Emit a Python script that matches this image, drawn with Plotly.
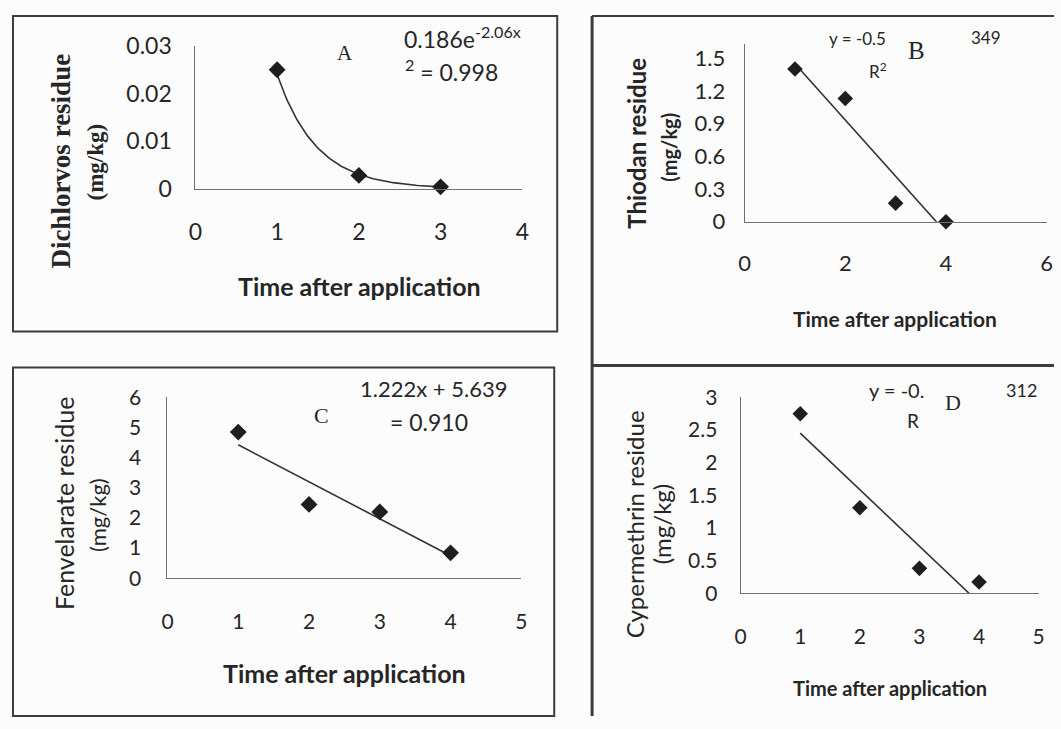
import numpy as np
import plotly.graph_objects as go

# ---------------- data ----------------
days = [1, 2, 3, 4]

dichlorvos_x = [1, 2, 3]
dichlorvos_y = [0.025, 0.0028, 0.0004]

thiodan_y = [1.40, 1.13, 0.17, 0.0]
fenvelarate_y = [4.85, 2.45, 2.20, 0.84]
cypermethrin_y = [2.75, 1.31, 0.38, 0.17]

a_ticks = [0, 0.01, 0.02, 0.03]
a_ticklabels = ["0", "0.01", "0.02", "0.03"]
b_ticks = [0, 0.3, 0.6, 0.9, 1.2, 1.5]
b_ticklabels = ["0", "0.3", "0.6", "0.9", "1.2", "1.5"]
c_ticks = [0, 1, 2, 3, 4, 5, 6]
d_ticks = [0, 0.5, 1, 1.5, 2, 2.5, 3]
d_ticklabels = ["0", "0.5", "1", "1.5", "2", "2.5", "3"]

W, H = 1061, 729

# the page is photographed with a small margin around the figure;
# convert target picture pixels to figure (paper) fractions
OX, SX = 6.0, 0.99
OY, SY = 14.0, 0.963


def X(px):
    return min(max((px - OX) / SX / W, 0.0), 1.0)


def Y(py):
    return min(max(1 - (py - OY) / SY / H, 0.0), 1.0)


INK = "#262626"
AXIS = "#707070"
SANS = "Lato, 'Open Sans', sans-serif"
SERIF = "'Liberation Serif', 'DejaVu Serif', serif"

fig = go.Figure()

# ---------------- trend lines (fitted from the data) ----------------
b_exp, ln_a = np.polyfit(dichlorvos_x, np.log(dichlorvos_y), 1)
xa = np.linspace(min(dichlorvos_x), max(dichlorvos_x), 80)
fig.add_trace(go.Scatter(x=xa, y=np.exp(ln_a) * np.exp(b_exp * xa), mode="lines",
                         line=dict(color="#333333", width=1.6), xaxis="x", yaxis="y",
                         hoverinfo="skip"))


def linfit(ys):
    m, c = np.polyfit(days, ys, 1)
    xs = np.array([min(days), max(days)], dtype=float)
    return xs, m * xs + c


for ys, xr, yr in [(thiodan_y, "x2", "y2"), (fenvelarate_y, "x3", "y3"), (cypermethrin_y, "x4", "y4")]:
    xs, yl = linfit(ys)
    fig.add_trace(go.Scatter(x=xs, y=yl, mode="lines", line=dict(color="#333333", width=1.6),
                             xaxis=xr, yaxis=yr, hoverinfo="skip"))


# ---------------- markers ----------------
def mk(size):
    return dict(symbol="diamond", size=size, color="#1e1e1e", line=dict(width=0))


fig.add_trace(go.Scatter(x=dichlorvos_x, y=dichlorvos_y, mode="markers", marker=mk(13),
                         cliponaxis=False, xaxis="x", yaxis="y"))
fig.add_trace(go.Scatter(x=days, y=thiodan_y, mode="markers", marker=mk(12),
                         cliponaxis=False, xaxis="x2", yaxis="y2"))
fig.add_trace(go.Scatter(x=days, y=fenvelarate_y, mode="markers", marker=mk(13),
                         cliponaxis=False, xaxis="x3", yaxis="y3"))
fig.add_trace(go.Scatter(x=days, y=cypermethrin_y, mode="markers", marker=mk(12),
                         cliponaxis=False, xaxis="x4", yaxis="y4"))


def xax(px0, px1, rng, dtick, anchor, fs, standoff):
    return dict(domain=[X(px0), X(px1)], range=rng, dtick=dtick, tick0=0, anchor=anchor,
                showgrid=False, zeroline=False, showline=True, linecolor=AXIS, linewidth=1,
                ticks="", ticklabelstandoff=standoff,
                tickfont=dict(family=SANS, size=fs, color=INK), fixedrange=True)


def yax(py0, py1, rng, tickvals, ticktext, anchor, fs, standoff):
    return dict(domain=[Y(py0), Y(py1)], range=rng, tickvals=tickvals, ticktext=ticktext,
                anchor=anchor, showgrid=False, zeroline=False, showline=True, linecolor=AXIS,
                linewidth=1, ticks="", ticklabelstandoff=standoff,
                tickfont=dict(family=SANS, size=fs, color=INK), fixedrange=True)


layout = dict(
    width=W, height=H, margin=dict(l=0, r=0, t=0, b=0),
    paper_bgcolor="#fcfcfc", plot_bgcolor="rgba(0,0,0,0)", showlegend=False,
    xaxis=xax(195, 523, [0, 4], 1, "y", 23, 23),
    yaxis=yax(188, 45, [0, 0.03], a_ticks, a_ticklabels, "x", 23, 18),
    xaxis2=xax(746, 1049, [0, 6], 2, "y2", 22, 22),
    yaxis2=yax(221, 43, [0, 1.63], b_ticks, b_ticklabels, "x2", 22, 14),
    xaxis3=xax(167, 522, [0, 5], 1, "y3", 21, 25),
    yaxis3=yax(578, 397, [0, 6], c_ticks, [str(v) for v in c_ticks], "x3", 21, 21),
    xaxis4=xax(742, 1041, [0, 5], 1, "y4", 21, 25),
    yaxis4=yax(593, 397, [0, 3], d_ticks, d_ticklabels, "x4", 21, 18),
)
fig.update_layout(**layout)

# ---------------- panel frames ----------------
frame = dict(color="#3c3c3c", width=2)
shapes = [
    dict(type="rect", xref="paper", yref="paper", x0=X(12), x1=X(558), y0=Y(331), y1=Y(15), line=frame),
    dict(type="rect", xref="paper", yref="paper", x0=X(12), x1=X(555), y0=Y(720), y1=Y(367), line=frame),
    dict(type="line", xref="paper", yref="paper", x0=X(593), x1=X(593), y0=Y(729), y1=Y(15), line=dict(color="#3c3c3c", width=3)),
    dict(type="line", xref="paper", yref="paper", x0=X(593), x1=X(1061), y0=Y(15), y1=Y(15), line=frame),
    dict(type="line", xref="paper", yref="paper", x0=X(593), x1=X(1061), y0=Y(365), y1=Y(365), line=dict(color="#3c3c3c", width=3)),
]
fig.update_layout(shapes=shapes)


# ---------------- texts ----------------
def txt(s, px, py, size, family=SANS, bold=False, angle=0, xanchor="center", color=INK):
    if bold:
        s = "<b>" + s + "</b>"
    return dict(text=s, x=X(px), y=Y(py), xref="paper", yref="paper", showarrow=False,
                xanchor=xanchor, yanchor="middle", textangle=angle,
                font=dict(family=family, size=size, color=color))


ann = [
    # Panel A
    txt("Time after application", 360, 285, 25, bold=True),
    txt("Dichlorvos residue", 60, 160, 27, family=SERIF, bold=True, angle=-90),
    txt("(mg/kg)", 95, 161, 23, family=SERIF, bold=True, angle=-90),
    txt("A", 345, 52, 21, family=SERIF),
    txt("0.186e<sup>-2.06x</sup>", 402, 37, 23, xanchor="left"),
    txt("<sup>2</sup> = 0.998", 403, 70, 23, xanchor="left"),
    # Panel B
    txt("Time after application", 897, 318, 21, bold=True),
    txt("Thiodan residue", 638, 142, 24, bold=True, angle=-90),
    txt("(mg/kg)", 670, 146, 20, bold=True, angle=-90),
    txt("B", 918, 50, 25, family=SERIF),
    txt("y = -0.5", 859, 38, 17),
    txt("R<sup>2</sup>", 880, 70, 17),
    txt("349", 1005, 37, 17, xanchor="right"),
    # Panel C
    txt("Time after application", 345, 673, 25, bold=True),
    txt("Fenvelarate residue", 63, 503, 25, angle=-90),
    txt("(mg/kg)", 97, 515, 22, angle=-90),
    txt("C", 322, 415, 22, family=SERIF),
    txt("1.222x + 5.639", 358, 388, 22, xanchor="left"),
    txt("= 0.910", 388, 422, 23, xanchor="left"),
    # Panel D
    txt("Time after application", 892, 688, 20, bold=True),
    txt("Cypermethrin residue", 635, 524, 24, angle=-90),
    txt("(mg/kg)", 662, 524, 24, angle=-90),
    txt("D", 955, 402, 22, family=SERIF),
    txt("y = -0.", 898, 390, 20),
    txt("R", 915, 420, 19),
    txt("312", 1041, 390, 18, xanchor="right"),
]
fig.update_layout(annotations=ann)

# place the graph at the top-left corner of the page (no default body margin)
pin = ("var g=document.getElementById('{plot_id}');"
       "document.body.style.margin='0';"
       "g.style.position='absolute';g.style.left='0px';g.style.top='0px';")

fig.write_html("out.html", config={"displayModeBar": False}, post_script=pin)
